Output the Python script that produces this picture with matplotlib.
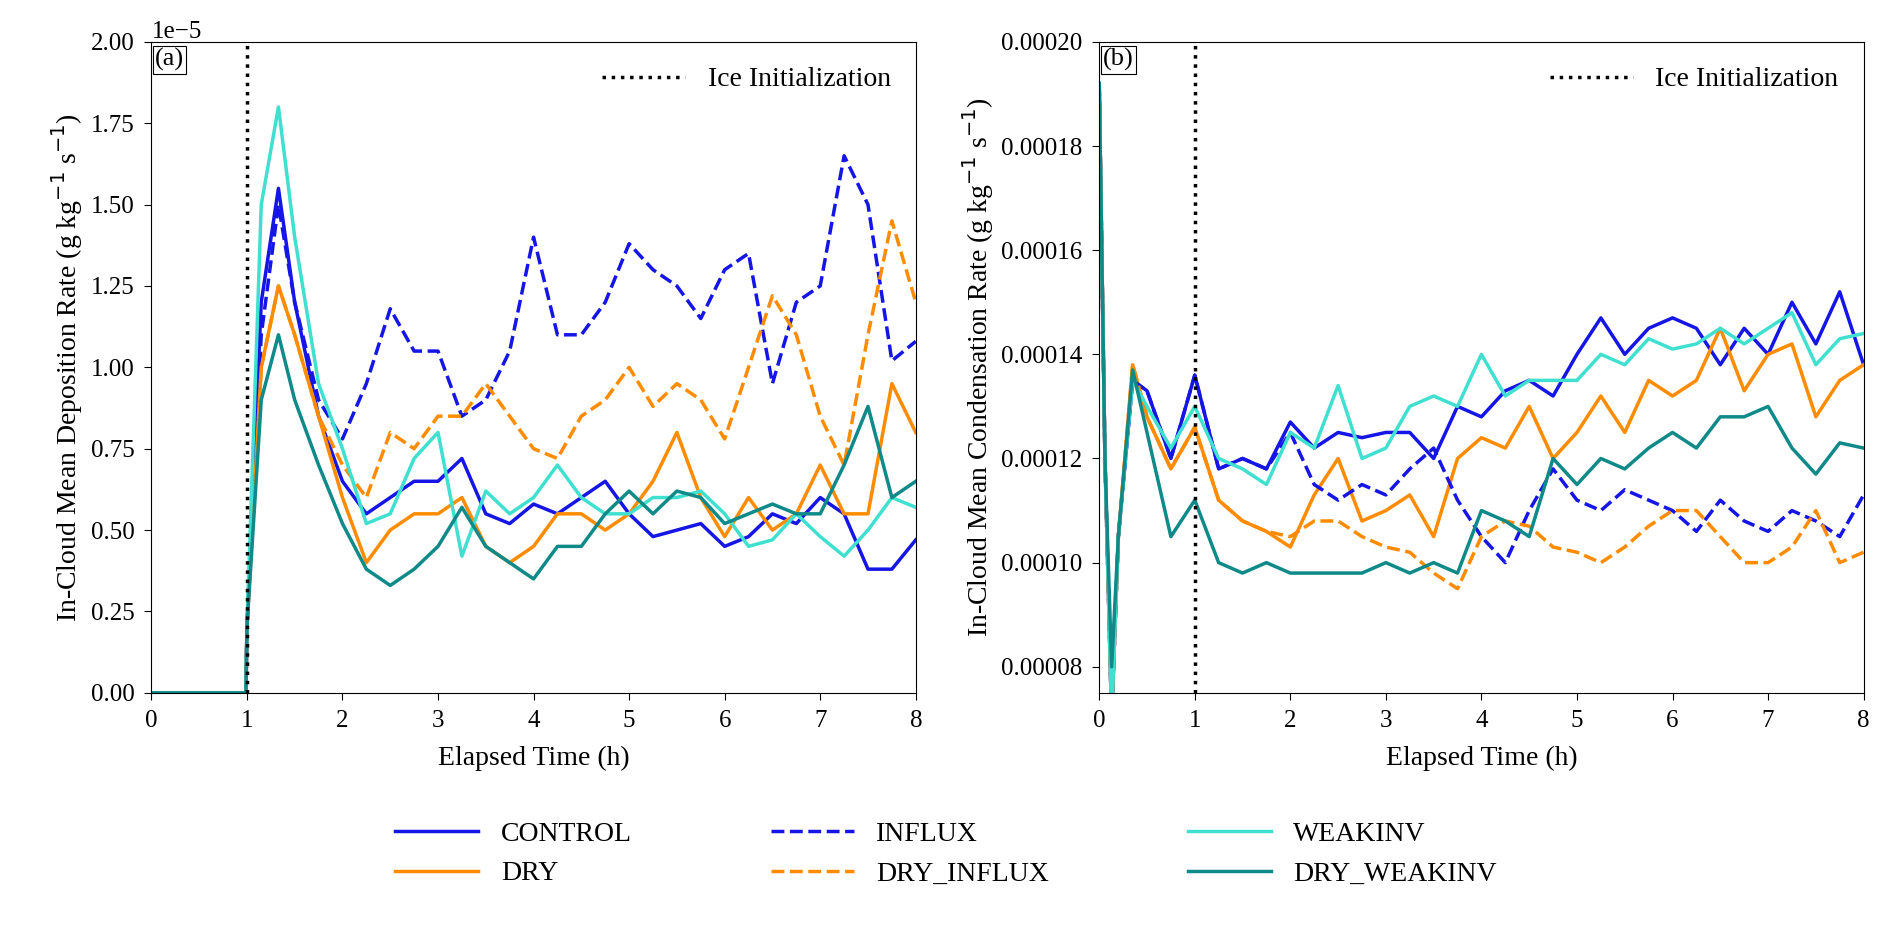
"""
In-cloud mean deposition and condensation rates for the six sensitivity runs,
with the time of ice initialization marked.
"""

import matplotlib.pyplot as plt
import numpy as np

plt.rcParams["font.family"] = ["Liberation Serif", "DejaVu Serif"]
plt.rcParams["font.size"] = 18

TIME_A = [0, 0.99, 1.0, 1.15, 1.33, 1.5, 1.75, 2.0, 2.25, 2.5, 2.75, 3.0, 3.25, 3.5, 3.75, 4.0,
          4.25, 4.5, 4.75, 5.0, 5.25, 5.5, 5.75, 6.0, 6.25, 6.5, 6.75, 7.0, 7.25, 7.5, 7.75, 8.0]
DEP_CONTROL = [0, 0, 0.2, 1.2, 1.55, 1.2, 0.85, 0.65, 0.55, 0.6, 0.65, 0.65, 0.72, 0.55, 0.52, 0.58,
               0.55, 0.6, 0.65, 0.55, 0.48, 0.5, 0.52, 0.45, 0.48, 0.55, 0.52, 0.6, 0.55, 0.38, 0.38, 0.47]
DEP_INFLUX = [0, 0, 0.2, 1.1, 1.5, 1.2, 0.9, 0.78, 0.95, 1.18, 1.05, 1.05, 0.85, 0.9, 1.05, 1.4,
              1.1, 1.1, 1.2, 1.38, 1.3, 1.25, 1.15, 1.3, 1.35, 0.95, 1.2, 1.25, 1.65, 1.5, 1.02, 1.08]
DEP_WEAKINV = [0, 0, 0.2, 1.5, 1.8, 1.4, 0.95, 0.75, 0.52, 0.55, 0.72, 0.8, 0.42, 0.62, 0.55, 0.6,
               0.7, 0.6, 0.55, 0.55, 0.6, 0.6, 0.62, 0.55, 0.45, 0.47, 0.55, 0.48, 0.42, 0.5, 0.6, 0.57]
DEP_DRY = [0, 0, 0.2, 1.0, 1.25, 1.1, 0.85, 0.6, 0.4, 0.5, 0.55, 0.55, 0.6, 0.45, 0.4, 0.45,
           0.55, 0.55, 0.5, 0.55, 0.65, 0.8, 0.6, 0.48, 0.6, 0.5, 0.55, 0.7, 0.55, 0.55, 0.95, 0.8]
DEP_DRY_INFLUX = [0, 0, 0.2, 1.0, 1.25, 1.1, 0.85, 0.7, 0.6, 0.8, 0.75, 0.85, 0.85, 0.95, 0.85, 0.75,
                  0.72, 0.85, 0.9, 1.0, 0.88, 0.95, 0.9, 0.78, 1.0, 1.22, 1.1, 0.85, 0.7, 1.1, 1.45, 1.2]
DEP_DRY_WEAKINV = [0, 0, 0.2, 0.9, 1.1, 0.9, 0.7, 0.52, 0.38, 0.33, 0.38, 0.45, 0.57, 0.45, 0.4, 0.35,
                   0.45, 0.45, 0.55, 0.62, 0.55, 0.62, 0.6, 0.52, 0.55, 0.58, 0.55, 0.55, 0.7, 0.88, 0.6, 0.65]

TIME_B = [0, 0.06, 0.13, 0.2, 0.35, 0.5, 0.75, 1.0, 1.25, 1.5, 1.75, 2.0, 2.25, 2.5, 2.75, 3.0, 3.25, 3.5,
          3.75, 4.0, 4.25, 4.5, 4.75, 5.0, 5.25, 5.5, 5.75, 6.0, 6.25, 6.5, 6.75, 7.0, 7.25, 7.5, 7.75, 8.0]
CON_CONTROL = [1.92, 1.2, 0.7, 1.05, 1.35, 1.33, 1.2, 1.36, 1.18, 1.2, 1.18, 1.27, 1.22, 1.25, 1.24, 1.25, 1.25, 1.2,
               1.3, 1.28, 1.33, 1.35, 1.32, 1.4, 1.47, 1.4, 1.45, 1.47, 1.45, 1.38, 1.45, 1.4, 1.5, 1.42, 1.52, 1.38]
CON_INFLUX = [1.92, 1.2, 0.7, 1.05, 1.35, 1.33, 1.2, 1.36, 1.18, 1.2, 1.18, 1.25, 1.15, 1.12, 1.15, 1.13, 1.18, 1.22,
              1.12, 1.05, 1.0, 1.1, 1.18, 1.12, 1.1, 1.14, 1.12, 1.1, 1.06, 1.12, 1.08, 1.06, 1.1, 1.08, 1.05, 1.13]
CON_WEAKINV = [1.92, 1.2, 0.7, 1.05, 1.35, 1.3, 1.22, 1.3, 1.2, 1.18, 1.15, 1.25, 1.22, 1.34, 1.2, 1.22, 1.3, 1.32,
               1.3, 1.4, 1.32, 1.35, 1.35, 1.35, 1.4, 1.38, 1.43, 1.41, 1.42, 1.45, 1.42, 1.45, 1.48, 1.38, 1.43, 1.44]
CON_DRY = [1.92, 1.2, 0.7, 1.05, 1.38, 1.28, 1.18, 1.26, 1.12, 1.08, 1.06, 1.03, 1.13, 1.2, 1.08, 1.1, 1.13, 1.05,
           1.2, 1.24, 1.22, 1.3, 1.2, 1.25, 1.32, 1.25, 1.35, 1.32, 1.35, 1.45, 1.33, 1.4, 1.42, 1.28, 1.35, 1.38]
CON_DRY_INFLUX = [1.92, 1.2, 0.7, 1.05, 1.38, 1.28, 1.18, 1.26, 1.12, 1.08, 1.06, 1.05, 1.08, 1.08, 1.05, 1.03, 1.02, 0.98,
                  0.95, 1.05, 1.08, 1.07, 1.03, 1.02, 1.0, 1.03, 1.07, 1.1, 1.1, 1.05, 1.0, 1.0, 1.03, 1.1, 1.0, 1.02]
CON_DRY_WEAKINV = [1.92, 1.2, 0.8, 1.05, 1.37, 1.25, 1.05, 1.12, 1.0, 0.98, 1.0, 0.98, 0.98, 0.98, 0.98, 1.0, 0.98, 1.0,
                   0.98, 1.1, 1.08, 1.05, 1.2, 1.15, 1.2, 1.18, 1.22, 1.25, 1.22, 1.28, 1.28, 1.3, 1.22, 1.17, 1.23, 1.22]

RUNS = ["CONTROL", "DRY", "INFLUX", "DRY_INFLUX", "WEAKINV", "DRY_WEAKINV"]
COLORS = {"CONTROL": "#1515e6", "DRY": "#ff8c00", "INFLUX": "#1515e6",
          "DRY_INFLUX": "#ff8c00", "WEAKINV": "#40e0d0", "DRY_WEAKINV": "#108a88"}
STYLES = {"CONTROL": "-", "DRY": "-", "INFLUX": "--", "DRY_INFLUX": "--",
          "WEAKINV": "-", "DRY_WEAKINV": "-"}


def draw_panel(ax, time, series, scale, label, ylabel):
    handles = []
    for run in RUNS:
        h, = ax.plot(time, np.array(series[run]) * scale, color=COLORS[run],
                     linestyle=STYLES[run], linewidth=2.5, label=run)
        handles.append(h)
    ice = ax.axvline(1, color="black", linestyle=":", linewidth=2.5, label="Ice Initialization")
    ax.legend(handles=[ice], loc="upper right", frameon=False, fontsize=20, handlelength=3)
    ax.text(0.005, 0.99, label, transform=ax.transAxes, ha="left", va="top", fontsize=19,
            bbox=dict(facecolor="white", edgecolor="black", linewidth=0.8, pad=1.5))
    ax.set_xlim(0, 8)
    ax.set_xlabel("Elapsed Time (h)", fontsize=20, labelpad=10)
    ax.set_ylabel(ylabel, fontsize=20)
    ax.tick_params(labelsize=18, length=5, pad=7)
    return handles


def main():
    fig, (ax1, ax2) = plt.subplots(1, 2, figsize=(18.92, 9.3), dpi=100)

    dep = dict(zip(RUNS, [DEP_CONTROL, DEP_DRY, DEP_INFLUX, DEP_DRY_INFLUX, DEP_WEAKINV, DEP_DRY_WEAKINV]))
    con = dict(zip(RUNS, [CON_CONTROL, CON_DRY, CON_INFLUX, CON_DRY_INFLUX, CON_WEAKINV, CON_DRY_WEAKINV]))

    handles = draw_panel(ax1, TIME_A, dep, 1e-5, "(a)",
                         r"In-Cloud Mean Deposition Rate (g kg$^{-1}$ s$^{-1}$)")
    ax1.set_ylim(0, 2e-5)
    ax1.set_yticks(np.arange(0, 2.01e-5, 0.25e-5))
    ax1.yaxis.get_offset_text().set_fontsize(18)

    draw_panel(ax2, TIME_B, con, 1e-4, "(b)",
               r"In-Cloud Mean Condensation Rate (g kg$^{-1}$ s$^{-1}$)")
    ax2.set_ylim(0.000075, 0.0002)
    ax2.set_yticks([0.00008, 0.0001, 0.00012, 0.00014, 0.00016, 0.00018, 0.0002])
    ax2.set_yticklabels(["0.00008", "0.00010", "0.00012", "0.00014", "0.00016", "0.00018", "0.00020"])

    fig.legend(handles=handles, loc="lower center", ncol=3, frameon=False, fontsize=20,
               handlelength=3, columnspacing=5, bbox_to_anchor=(0.5, 0.02))
    fig.subplots_adjust(left=0.08, right=0.985, top=0.955, bottom=0.255, wspace=0.24)
    fig.savefig("out.png", dpi=100)
    plt.close(fig)


if __name__ == "__main__":
    main()
